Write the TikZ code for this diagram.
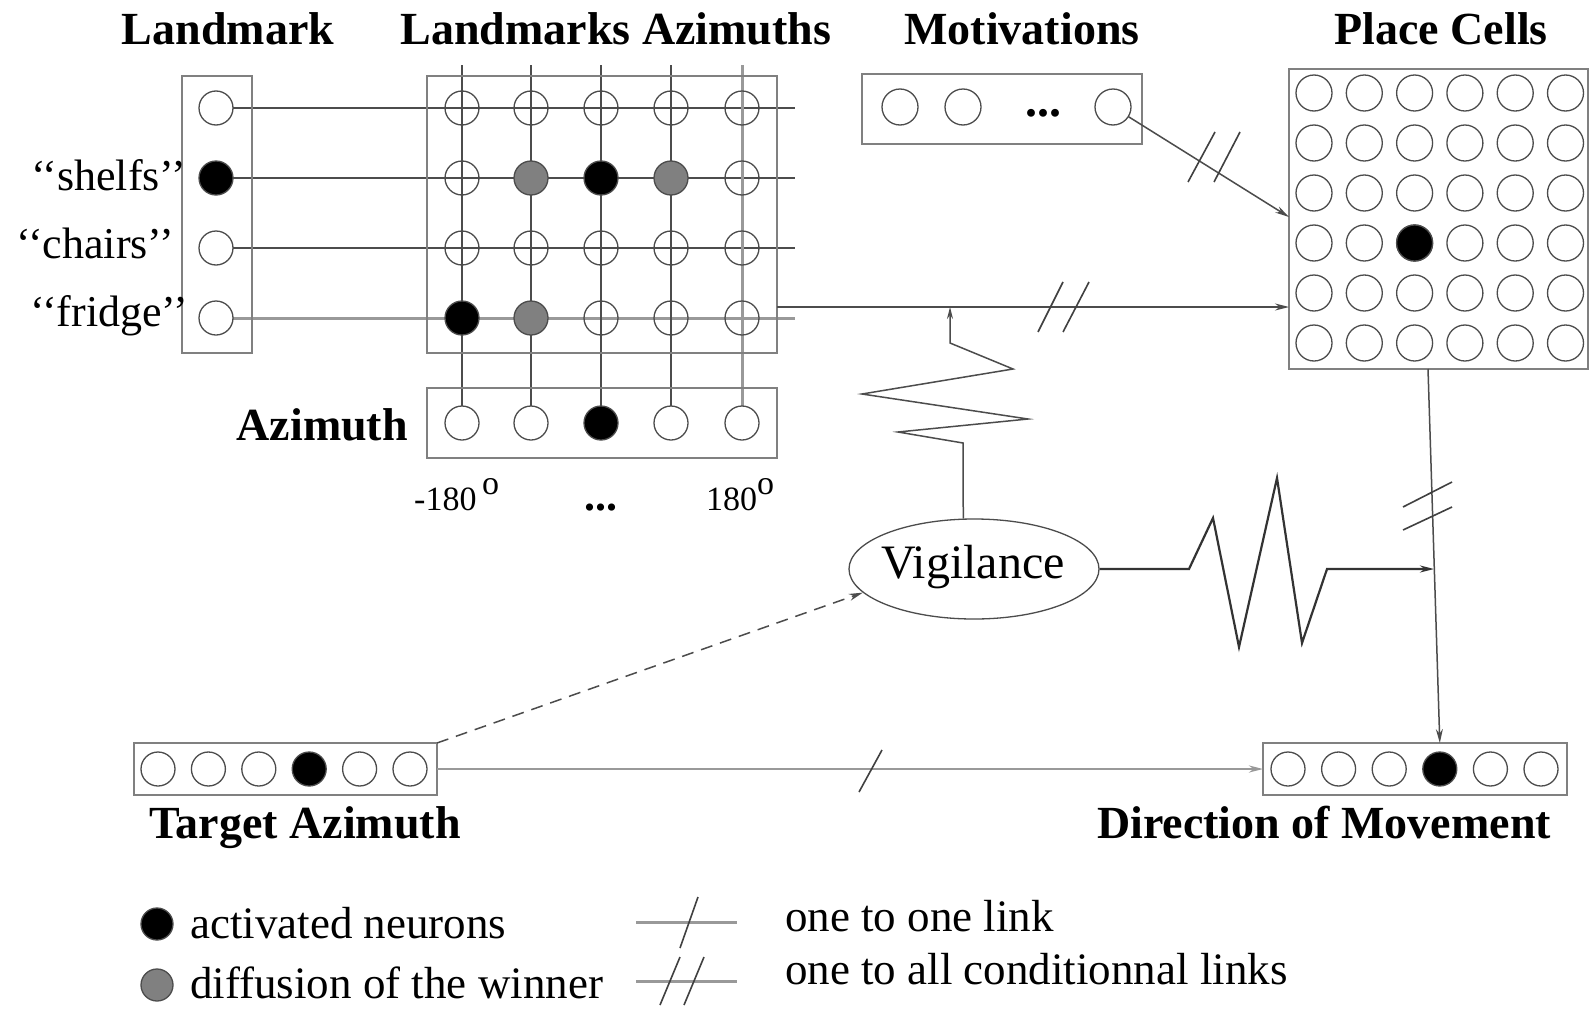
\documentclass[tikz,border=0pt]{standalone}
\usepackage{fontspec}
\setmainfont{Liberation Serif}
\usetikzlibrary{shapes.geometric,arrows.meta}
\pgfdeclarelayer{background}
\pgfsetlayers{background,main}
\begin{document}
\begin{tikzpicture}[x=1pt,y=-1pt,
 neuron/.style={circle,draw=black!70,line width=1.3pt,minimum size=34pt,inner sep=0pt,outer sep=0pt},
 act/.style={neuron,fill=black},
 dif/.style={neuron,fill=black!50},
 layerbox/.style={draw=black!50,line width=2.5pt,inner sep=0pt,outer sep=0pt},
 title/.style={font=\fontsize{46}{50}\selectfont\bfseries,anchor=base,inner sep=0pt},
 lbl/.style={font=\fontsize{44}{48}\selectfont,inner sep=0pt},
 wire/.style={draw=black!70,line width=1.5pt},
 greywire/.style={draw=black!40,line width=3pt},
 arr/.style={wire,-{Stealth[length=14pt,width=7pt]}},
 slash/.style={draw=black!75,line width=1.6pt}]
\useasboundingbox (0,0) rectangle (1589,1009);

% titles
\node[title] (tLand) at (228,44) {Landmark};
\node[title] (tLA) at (616,44) {Landmarks Azimuths};
\node[title] (tMot) at (1022,44) {Motivations};
\node[title] (tPC) at (1441,44) {Place Cells};

% landmark layer
\node[layerbox,minimum width=70pt,minimum height=277pt] (lmbox) at (217,214.5) {};
\foreach \y/\n/\s in {108/1/neuron,178/2/act,248/3/neuron,318/4/neuron}
  \node[\s] (lm\n) at (216,\y) {};
\node[lbl,anchor=base east] (shelfs) at (186,190) {`{}`shelfs'{}'};
\node[lbl,anchor=base east] (chairs) at (174,258) {`{}`chairs'{}'};
\node[lbl,anchor=base east] (fridge) at (188,326) {`{}`fridge'{}'};

% landmarks azimuths grid
\node[layerbox,minimum width=350pt,minimum height=277pt] (gbox) at (602,214.5) {};
\foreach \y/\j/\sa/\sb/\sc/\sd/\se in {108/1/neuron/neuron/neuron/neuron/neuron,
   178/2/neuron/dif/act/dif/neuron, 248/3/neuron/neuron/neuron/neuron/neuron,
   318/4/act/dif/neuron/neuron/neuron}{
  \node[\sa] (g-1-\j) at (462,\y) {};
  \node[\sb] (g-2-\j) at (531,\y) {};
  \node[\sc] (g-3-\j) at (601,\y) {};
  \node[\sd] (g-4-\j) at (671,\y) {};
  \node[\se] (g-5-\j) at (742,\y) {};
}

% azimuth layer
\node[layerbox,minimum width=350pt,minimum height=70pt] (azbox) at (602,423) {};
\foreach \x/\i/\s in {462/1/neuron,531/2/neuron,601/3/act,671/4/neuron,742/5/neuron}
  \node[\s] (az\i) at (\x,423) {};
\node[title,anchor=base east] (azl) at (408,440) {Azimuth};
\node[font=\fontsize{34}{36}\selectfont,anchor=base west,inner sep=0pt] (m180) at (414,510) {-180\,\raisebox{0.45em}{o}};
\node[font=\fontsize{44}{46}\selectfont\bfseries,anchor=base,inner sep=0pt] (adots) at (601,510) {...};
\node[font=\fontsize{34}{36}\selectfont,anchor=base west,inner sep=0pt] (p180) at (706,510) {180\raisebox{0.45em}{o}};

% background wires of the grid
\foreach \j/\y in {1/108,2/178,3/248,4/318} \coordinate (re\j) at (795,\y);
\foreach \i/\x in {1/462,2/531,3/601,4/671,5/742} \coordinate (ct\i) at (\x,65);
\begin{pgfonlayer}{background}
  \fill[white] (0,0) rectangle (1589,1009);
  \foreach \j in {1,2,3} \draw[wire] (lm\j) -- (re\j);
  \draw[greywire] (lm4) -- (re4);
  \foreach \i in {1,2,3,4} \draw[wire] (ct\i) -- (az\i);
  \draw[greywire] (ct5) -- (az5);
\end{pgfonlayer}

% motivations
\node[layerbox,minimum width=280pt,minimum height=70pt] (motbox) at (1002,109) {};
\node[neuron,minimum size=36pt] (mot1) at (900,107) {};
\node[neuron,minimum size=36pt] (mot2) at (963,107) {};
\node[neuron,minimum size=36pt] (mot3) at (1113,107) {};
\node[font=\fontsize{48}{50}\selectfont\bfseries,anchor=base,inner sep=0pt] (mdots) at (1043,116) {...};

% place cells
\node[layerbox,minimum width=299pt,minimum height=300pt] (pcbox) at (1438.5,219) {};
\foreach \i/\x in {1/1314,2/1364.3,3/1414.6,4/1464.9,5/1515.2,6/1565.5}
  \foreach \j/\y in {1/93,2/143,3/193,4/243,5/293,6/343}
    \node[neuron,minimum size=36pt] (pc-\i-\j) at (\x,\y) {};
\node[act,minimum size=36pt] (pcact) at (1414.6,243) {};

% target azimuth & direction of movement
\node[layerbox,minimum width=303pt,minimum height=52pt] (tabox) at (285.5,769) {};
\foreach \i/\x/\s in {1/158/neuron,2/208.4/neuron,3/258.8/neuron,4/309.2/act,5/359.6/neuron,6/410/neuron}
  \node[\s] (ta\i) at (\x,769) {};
\node[layerbox,minimum width=304pt,minimum height=52pt] (dmbox) at (1415,769) {};
\foreach \i/\x/\s in {1/1288/neuron,2/1338.6/neuron,3/1389.2/neuron,4/1439.8/act,5/1490.4/neuron,6/1541/neuron}
  \node[\s] (dm\i) at (\x,769) {};
\node[title] (tTA) at (305,838) {Target Azimuth};
\node[title] (tDM) at (1324,838) {Direction of Movement};

% vigilance
\node[ellipse,draw=black!70,line width=1.3pt,minimum width=250pt,minimum height=100pt,inner sep=0pt] (vig) at (974,569) {};
\node[font=\fontsize{48}{50}\selectfont,inner sep=0pt] (vigt) at (973,567) {Vigilance};

% connectors
\coordinate (pcin1) at (1289,217);
\draw[arr] (mot3) -- (pcin1);
\draw[slash] (1188,182) -- (1215,132);
\draw[slash] (1214,182) -- (1240,132);

\coordinate (gout) at (777,307);
\coordinate (pcin2) at (1289,307);
\draw[arr] (gout) -- (pcin2);
\draw[slash] (1038,332) -- (1063,282);
\draw[slash] (1063,332) -- (1089,282);

\coordinate (vtip) at (950,307);
\draw[arr,-{Stealth[length=12pt,width=6pt]}] (vig.102) -- (963,443) -- (898,432) -- (1028,419) -- (862,394) -- (1013,369) -- (950,343) -- (vtip);

\coordinate (vtip2) at (1434,569);
\draw[arr,draw=black!80,line width=2.2pt,-{Stealth[length=14pt,width=7pt]}] (vig.east) -- (1189,569) -- (1213,518) -- (1239,647) -- (1277,478) -- (1302,643) -- (1327,569) -- (vtip2);

\coordinate (pcout) at (1428,369);
\draw[arr] (pcout) -- (dm4 |- dmbox.north);
\draw[slash] (1403,507) -- (1452,482);
\draw[slash] (1403,530) -- (1452,507);

\draw[arr,greywire,line width=2.5pt,-{Stealth[length=14pt,width=7pt]}] (tabox.east) -- (dmbox.west);
\draw[slash] (859,792) -- (882,750);

\draw[arr,dashed,dash pattern=on 12pt off 8pt] (tabox.north east) -- (vig.192);

% legend
\node[act,minimum size=32pt] (legA) at (157,924) {};
\node[dif,minimum size=32pt] (legD) at (157,985) {};
\node[lbl,anchor=base west,font=\fontsize{45}{48}\selectfont] (legAt) at (190,938) {activated neurons};
\node[lbl,anchor=base west,font=\fontsize{45}{48}\selectfont] (legDt) at (190,998) {diffusion of the winner};
\coordinate (l1a) at (636,922); \coordinate (l1b) at (737,922);
\coordinate (l2a) at (636,981); \coordinate (l2b) at (737,981);
\draw[greywire] (l1a) -- (l1b);
\draw[slash] (680,948) -- (698,897);
\draw[greywire] (l2a) -- (l2b);
\draw[slash] (660,1005) -- (680,957);
\draw[slash] (684,1005) -- (704,957);
\node[lbl,anchor=base west,font=\fontsize{45}{48}\selectfont] (legOt) at (785,931) {one to one link};
\node[lbl,anchor=base west,font=\fontsize{45}{48}\selectfont] (legCt) at (785,984) {one to all conditionnal links};
\end{tikzpicture}
\end{document}
